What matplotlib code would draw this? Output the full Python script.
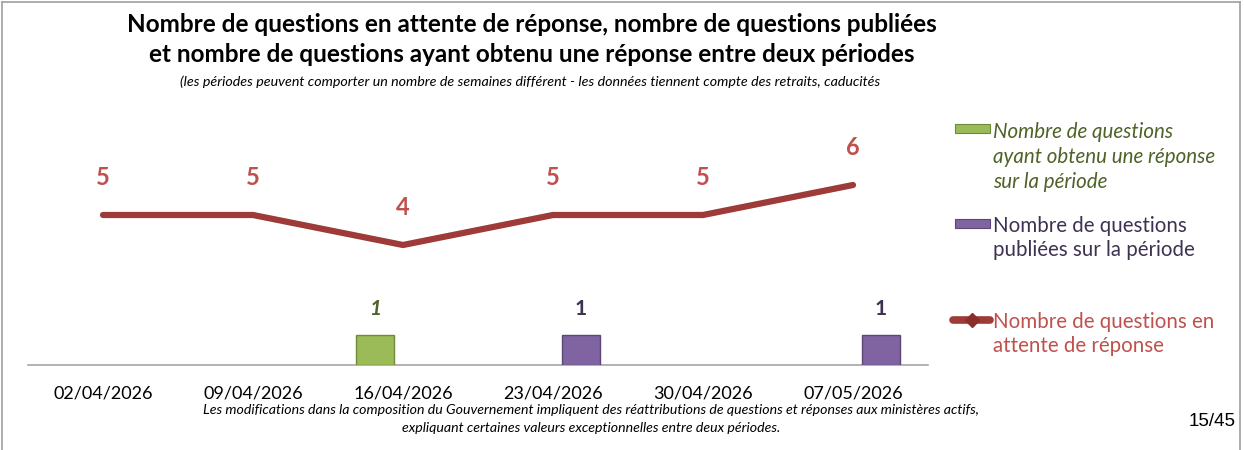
import matplotlib
matplotlib.use("Agg")
import matplotlib.pyplot as plt
from matplotlib.patches import Rectangle
from matplotlib.lines import Line2D
import numpy as np

plt.rcParams['font.family'] = ['Lato', 'DejaVu Sans']

dates = ["02/04/2026", "09/04/2026", "16/04/2026", "23/04/2026", "30/04/2026", "07/05/2026"]
answered = [0, 0, 1, 0, 0, 0]
published = [0, 0, 0, 1, 0, 1]
pending = [5, 5, 4, 5, 5, 6]

title1 = "Nombre de questions en attente de réponse, nombre de questions publiées"
title2 = "et nombre de questions ayant obtenu une réponse entre deux périodes"
subtitle = ("(les périodes peuvent comporter un nombre de semaines différent - "
            "les données tiennent compte des retraits, caducités")
foot1 = ("Les modifications dans la composition du Gouvernement impliquent des "
         "réattributions de questions et réponses aux ministères actifs,")
foot2 = "expliquant certaines valeurs exceptionnelles entre deux périodes."
leg_answered = "Nombre de questions\nayant obtenu une réponse\nsur la période"
leg_published = "Nombre de questions\npubliées sur la période"
leg_pending = "Nombre de questions en\nattente de réponse"
page = "15/45"

GREEN = "#9BBB59"; GREEN_E = "#6E8B3D"; GREEN_T = "#4F6228"
PURPLE = "#8064A2"; PURPLE_E = "#5A4677"; PURPLE_T = "#3F3151"
LINE = "#9E3B38"; RED_T = "#C0504D"

W, H = 1244, 450
fig = plt.figure(figsize=(W / 100, H / 100), dpi=100)
ax = fig.add_axes([28 / W, (H - 365) / H, 900 / W, 255 / H])

x = np.arange(len(dates))
bw = 0.25
off = 0.1875
ans = np.array(answered, dtype=float)
pub = np.array(published, dtype=float)
mg = ans > 0
mp = pub > 0
ax.bar(x[mg] - off, ans[mg], bw, color=GREEN, edgecolor=GREEN_E, linewidth=1.0, zorder=3)
ax.bar(x[mp] + off, pub[mp], bw, color=PURPLE, edgecolor=PURPLE_E, linewidth=1.0, zorder=3)
ax.plot(x, pending, color=LINE, lw=4.5, solid_capstyle='round', solid_joinstyle='miter', zorder=4)

for xi, v in zip(x, pending):
    ax.annotate(str(v), (xi, v), xytext=(0, 27), textcoords='offset points',
                ha='center', va='center', fontsize=17, fontweight='bold', color=RED_T)
for xi, v in zip(x[mg], ans[mg]):
    ax.annotate(f"{v:g}", (xi - off, v), xytext=(0, 19), textcoords='offset points',
                ha='center', va='center', fontsize=15, fontweight='bold',
                fontstyle='italic', color=GREEN_T)
for xi, v in zip(x[mp], pub[mp]):
    ax.annotate(f"{v:g}", (xi + off, v), xytext=(0, 19), textcoords='offset points',
                ha='center', va='center', fontsize=15, fontweight='bold', color=PURPLE_T)

ax.set_xlim(-0.5, len(dates) - 0.5)
ax.set_ylim(0, 8.5)
ax.set_xticks(x)
ax.set_xticklabels(dates, fontsize=13)
ax.tick_params(axis='x', length=0, pad=15)
ax.set_yticks([])
for s in ['top', 'right', 'left']:
    ax.spines[s].set_visible(False)
ax.spines['bottom'].set_color('#A6A6A6')
ax.spines['bottom'].set_linewidth(1.2)

# titles
cx = 532 / W
fig.text(cx, 1 - 25 / H, title1, ha='center', va='center', fontsize=17.5, fontweight='bold')
fig.text(cx, 1 - 55 / H, title2, ha='center', va='center', fontsize=17.5, fontweight='bold')
fig.text(530 / W, 1 - 82 / H, subtitle, ha='center', va='center', fontsize=10.3, fontstyle='italic')
fx = 591 / W
fig.text(fx, 1 - 410 / H, foot1, ha='center', va='center', fontsize=10.2, fontstyle='italic')
fig.text(fx, 1 - 428 / H, foot2, ha='center', va='center', fontsize=10.2, fontstyle='italic')
fig.text(1236 / W, 1 - 421 / H, page, ha='right', va='center', fontsize=13.5,
         family=['Liberation Sans', 'DejaVu Sans'])

# legend (manual)
tx = 993 / W
LFS = 14.8
fig.patches.append(Rectangle((955 / W, 1 - 133 / H), 35 / W, 9 / H, transform=fig.transFigure,
                             facecolor=GREEN, edgecolor=GREEN_E, lw=0.8))
fig.text(tx, 1 - 157 / H, leg_answered, ha='left', va='center', fontsize=LFS,
         fontstyle='italic', color=GREEN_T, linespacing=1.3)
fig.patches.append(Rectangle((955 / W, 1 - 228 / H), 35 / W, 9 / H, transform=fig.transFigure,
                             facecolor=PURPLE, edgecolor=PURPLE_E, lw=0.8))
fig.text(tx, 1 - 238 / H, leg_published, ha='left', va='center', fontsize=LFS,
         color=PURPLE_T, linespacing=1.3)
fig.lines.append(Line2D([953 / W, 990 / W], [1 - 320 / H, 1 - 320 / H], transform=fig.transFigure,
                        color=LINE, lw=5.5, solid_capstyle='round'))
fig.lines.append(Line2D([972 / W], [1 - 320 / H], transform=fig.transFigure, marker='D',
                        markersize=7, color='#8B2E2B', lw=0))
fig.text(tx, 1 - 334 / H, leg_pending, ha='left', va='center', fontsize=LFS,
         color=RED_T, linespacing=1.3)

# frame around the figure
for xs, ys in [([2 / W, 2 / W], [0, 1 - 2 / H]), ([2 / W, 1240 / W], [1 - 2 / H, 1 - 2 / H]),
               ([1240 / W, 1240 / W], [0, 1 - 2 / H])]:
    fig.lines.append(Line2D(xs, ys, transform=fig.transFigure, color='#A0A0A0', lw=1.2))

fig.savefig("out.png", dpi=100)
